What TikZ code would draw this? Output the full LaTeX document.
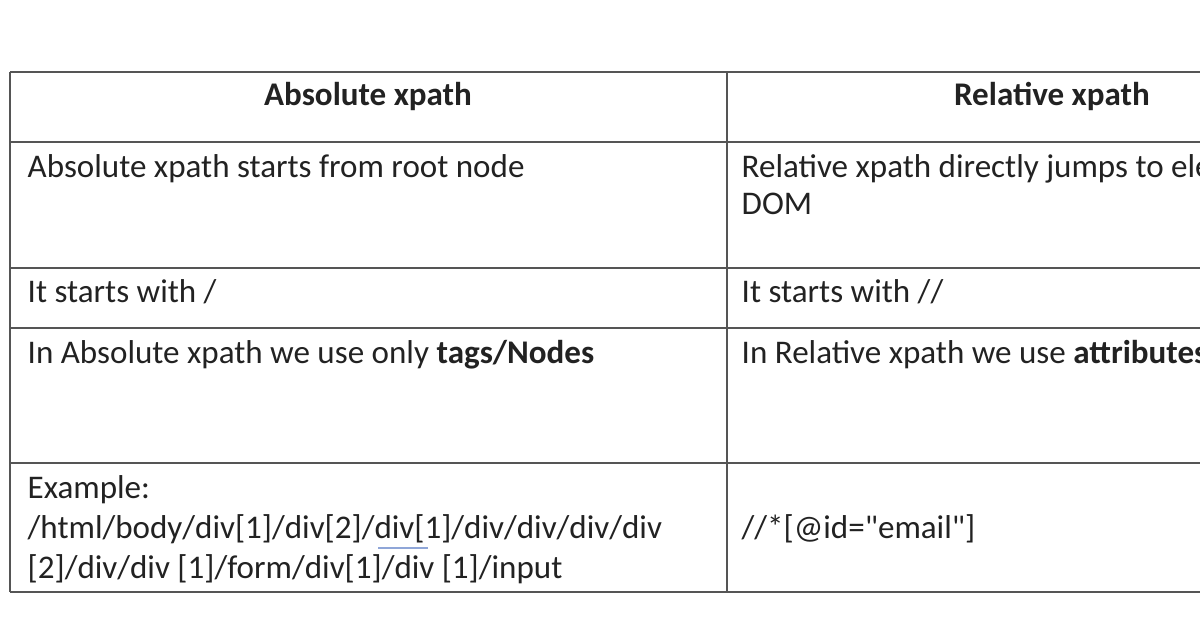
\documentclass[tikz,border=0pt]{standalone}
\usepackage{fontspec}
\setmainfont{Carlito}
\usepackage{tikz}
\usetikzlibrary{positioning}
\definecolor{gridline}{HTML}{555555}
\definecolor{celltext}{HTML}{222222}
\definecolor{spellmark}{HTML}{8FA6D8}

\begin{document}
\begin{tikzpicture}[x=0.01cm,y=-0.01cm,
    cell/.style={anchor=base west, inner sep=0pt, font=\fontsize{9.4pt}{11pt}\selectfont, color=celltext},
    head/.style={anchor=base, inner sep=0pt, font=\fontsize{9.4pt}{11pt}\selectfont\bfseries, color=celltext},
    rule/.style={gridline, line width=0.7pt}]
    \useasboundingbox (0,0) rectangle (1200,627);
    \clip (0,0) rectangle (1200,627);

    % Grid
    \foreach \y in {72,142,268,328,463,592} {
        \draw[rule] (10,\y) -- (1210,\y);
    }
    \draw[rule] (10,72) -- (10,592);
    \draw[rule] (727,72) -- (727,592);

    % Header
    \node[head] (absh) at (368,105) {Absolute xpath};
    \node[head] (relh) at (1052,105) {Relative xpath};

    % Left column
    \node[cell] (abs1) at (27,177) {Absolute xpath starts from root node};
    \node[cell] (abs2) at (27,302) {It starts with /};
    \node[cell] (abs3) at (27,363) {In Absolute xpath we use only \textbf{tags/Nodes}};
    \node[cell] (abs4a) at (27,498) {Example:};
    \node[cell] (abs4b) at (27,538) {/html/body/div[1]/div[2]/div[1]/div/div/div/div};
    \node[cell] (abs4c) at (27,578) {[2]/div/div [1]/form/div[1]/div [1]/input};
    \draw[spellmark, line width=0.8pt] (378,548) -- (428,548);

    % Right column
    \node[cell] (rel1a) at (741,177) {Relative xpath directly jumps to element on};
    \node[cell] (rel1b) at (741,214) {DOM};
    \node[cell] (rel2) at (741,302) {It starts with //};
    \node[cell] (rel3) at (741,363) {In Relative xpath we use \textbf{attributes}};
    \node[cell] (rel4) at (741,538) {//*[@id=\textquotedbl email\textquotedbl]};
\end{tikzpicture}
\end{document}
